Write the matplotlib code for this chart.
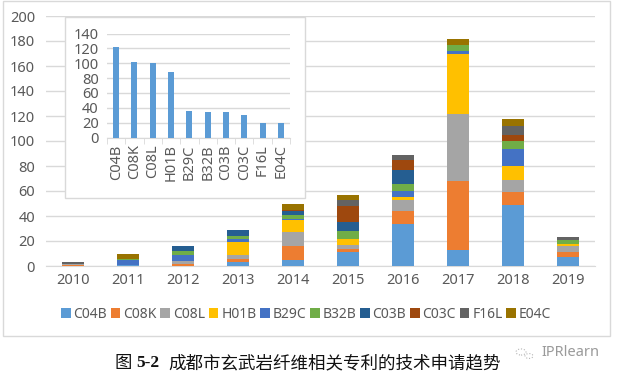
import matplotlib
matplotlib.use('Agg')
import matplotlib.pyplot as plt
from matplotlib.patches import Rectangle, Circle
import numpy as np

plt.rcParams['font.family'] = ['Noto Sans', 'DejaVu Sans']

W, H = 620, 377

# Data
years = ['2010', '2011', '2012', '2013', '2014', '2015', '2016', '2017', '2018', '2019']
codes = ['C04B', 'C08K', 'C08L', 'H01B', 'B29C', 'B32B', 'C03B', 'C03C', 'F16L', 'E04C']
C04B = [0, 1, 0, 3, 5, 11, 34, 13, 49, 7]
C08K = [1, 0, 2, 3, 11, 3, 10, 55, 10, 4]
C08L = [1, 0, 2, 3, 11, 3, 9, 54, 10, 5]
H01B = [0, 0, 0, 10, 10, 5, 2, 48, 11, 2]
B29C = [0, 4, 5, 3, 1, 0, 5, 2, 14, 0]
B32B = [0, 1, 3, 2, 3, 6, 6, 5, 6, 3]
C03B = [0, 0, 4, 5, 3, 7, 11, 0, 0, 0]
C03C = [0, 0, 0, 0, 1, 13, 8, 0, 5, 0]
F16L = [1, 0, 0, 0, 0, 5, 4, 0, 7, 2]
E04C = [0, 4, 0, 0, 5, 4, 0, 5, 6, 0]
series = [C04B, C08K, C08L, H01B, B29C, B32B, C03B, C03C, F16L, E04C]

# totals per class for the small chart
totals = [122, 101, 100, 88, 36, 35, 35, 30, 20, 20]

colors = ['#5B9BD5', '#ED7D31', '#A5A5A5', '#FFC000', '#4472C4',
          '#70AD47', '#255E91', '#9E480E', '#636363', '#997300']
grid_c = '#D9D9D9'
text_c = '#595959'


def box(x0, y0, x1, y1):
    # pixel box (y from the top) to figure fractions
    return [x0 / W, 1 - y1 / H, (x1 - x0) / W, (y1 - y0) / H]


fig = plt.figure(figsize=(W / 100, H / 100), dpi=100, facecolor='white')

# chart frame
fig.add_artist(Rectangle((3 / W, 1 - 336 / H), 607 / W, 335 / H, transform=fig.transFigure,
                         facecolor='white', edgecolor=grid_c, linewidth=1, zorder=-1))

# main stacked bars
ax = fig.add_axes(box(46, 16, 595, 266))
x = np.arange(len(years))
bottom = np.zeros(len(years))
handles = []
for vals, c, name in zip(series, colors, codes):
    b = ax.bar(x, vals, width=0.4, bottom=bottom, color=c, label=name, zorder=3)
    handles.append(b)
    bottom += np.array(vals)
ax.set_xlim(-0.5, 9.5)
ax.set_ylim(0, 200)
ax.set_yticks(range(0, 201, 20))
ax.set_xticks(x, years)
ax.yaxis.grid(True, color=grid_c, linewidth=1, zorder=0)
ax.tick_params(axis='both', length=0, labelsize=10.5, labelcolor=text_c, pad=5)
ax.tick_params(axis='y', pad=8)
for s in ['top', 'right', 'left']:
    ax.spines[s].set_visible(False)
ax.spines['bottom'].set_color(grid_c)
ax.patch.set_alpha(0)

fig.legend(handles=handles, labels=codes, loc='center', bbox_to_anchor=(306 / W, 1 - 314 / H),
           ncol=10, frameon=False, fontsize=10, labelcolor=text_c, handlelength=0.7,
           handleheight=0.7, handletextpad=0.2, columnspacing=0.27, borderpad=0)

# small chart on top of the main one
fig.add_artist(Rectangle((65 / W, 1 - 198 / H), 240 / W, 181 / H, transform=fig.transFigure,
                         facecolor='white', edgecolor=grid_c, linewidth=1, zorder=5))
ins = fig.add_axes(box(107, 33.5, 290, 137.5), zorder=6)
x2 = np.arange(len(codes))
ins.bar(x2, totals, width=0.33, color=colors[0], zorder=3)
ins.set_xlim(-0.5, 9.5)
ins.set_ylim(0, 140)
ins.set_yticks(range(0, 141, 20))
ins.set_xticks(x2, codes, rotation=90)
ins.set_xticks(np.arange(-0.5, 10), minor=True)
ins.yaxis.grid(True, color=grid_c, linewidth=1, zorder=0)
ins.tick_params(axis='both', which='major', length=0, labelsize=10.5, labelcolor=text_c)
ins.tick_params(axis='x', which='major', pad=5)
ins.tick_params(axis='y', pad=6)
ins.tick_params(axis='x', which='minor', length=4, color=grid_c)
for s in ['top', 'right', 'left']:
    ins.spines[s].set_visible(False)
ins.spines['bottom'].set_color(grid_c)

# caption and watermark
fig.text(115 / W, 1 - 363 / H, '图', family=['Noto Sans CJK SC'], fontsize=12.5, color='#111111', va='center')
fig.text(136 / W, 1 - 363 / H, '5-2', family=['Liberation Serif'], fontsize=12.5, weight='bold',
         color='#111111', va='center')
fig.text(168 / W, 1 - 363 / H, '成都市玄武岩纤维相关专利的技术申请趋势', family=['Noto Sans CJK SC'],
         fontsize=12.6, color='#111111', va='center')
fig.text(541 / W, 1 - 353 / H, 'IPRlearn', fontsize=10.5, color='#9A9A9A', va='center')
for cx, cy, r in [(521, 352, 5), (529, 356, 4)]:
    fig.add_artist(Circle((cx / W, 1 - cy / H), r / W, transform=fig.transFigure, fill=False,
                          edgecolor='#B5B5B5', linewidth=0.8, linestyle=':'))

fig.savefig('out.png', dpi=100)
